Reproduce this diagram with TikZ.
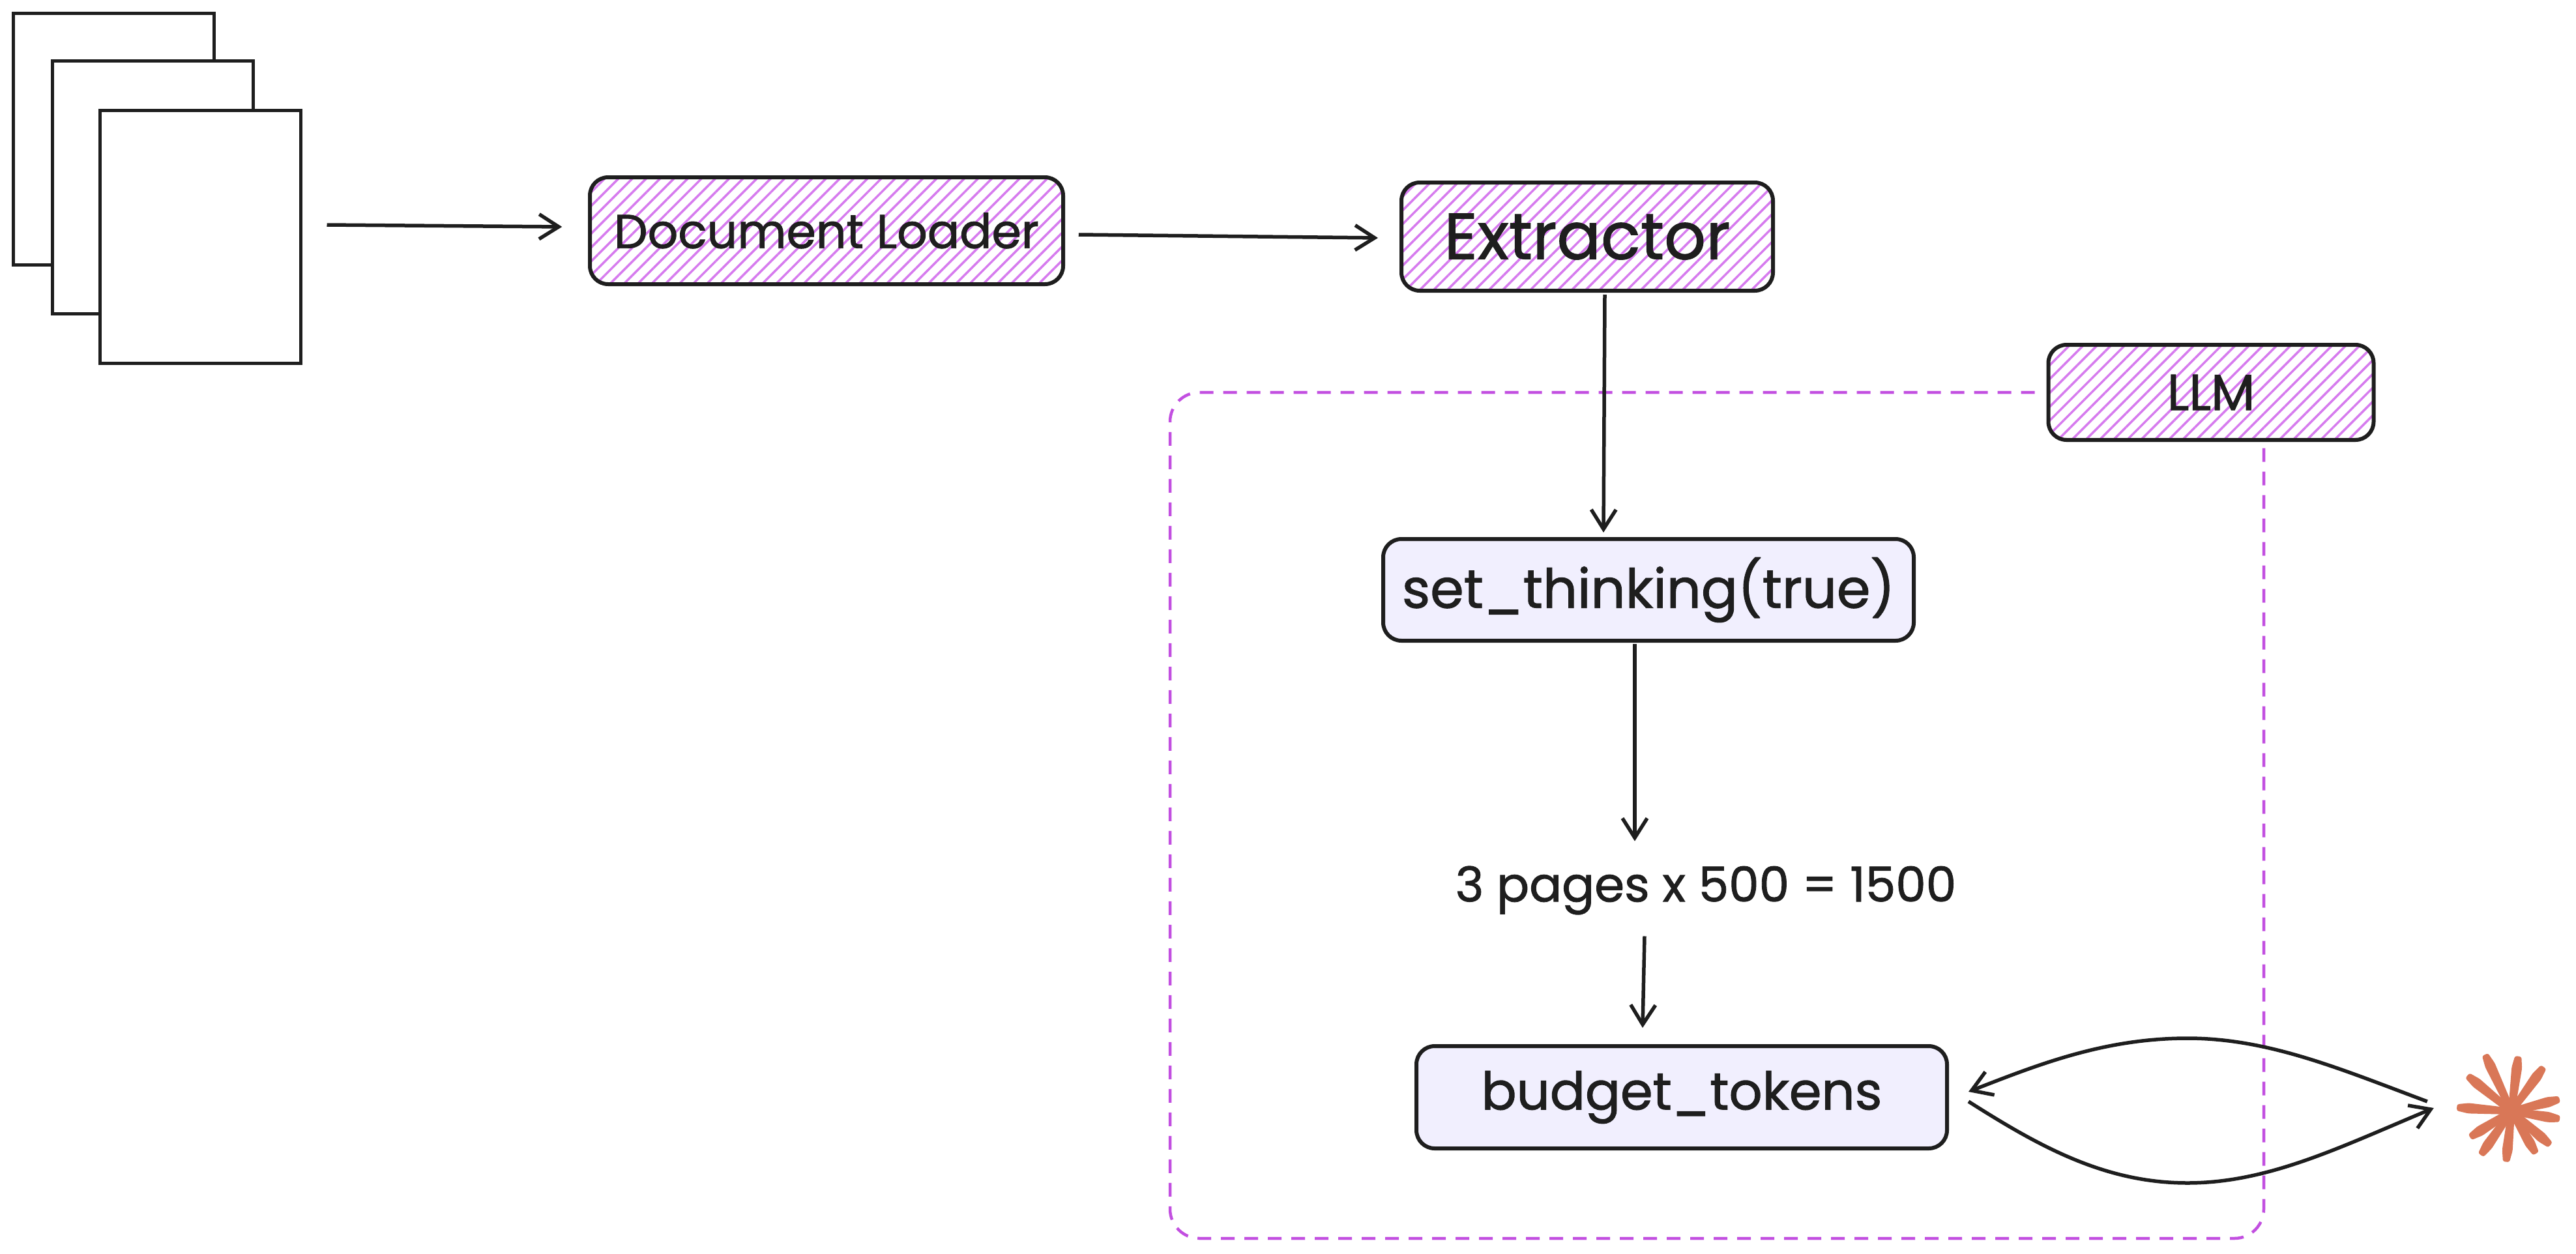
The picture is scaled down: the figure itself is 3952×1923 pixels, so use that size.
\documentclass[tikz,border=0pt]{standalone}
\usepackage{fontspec}
\setmainfont[FakeBold=1.2]{Poppins}
\usetikzlibrary{arrows.meta,patterns.meta}

\definecolor{ink}{HTML}{1E1E1E}
\definecolor{hatchpurple}{HTML}{D67BEE}
\definecolor{dashpurple}{HTML}{C24FE0}
\definecolor{boxlilac}{HTML}{F1EFFE}
\definecolor{sparkorange}{HTML}{D97757}

\tikzset{
  page/.style={draw=ink,fill=white,line width=5pt,minimum width=308pt,inner sep=0pt},
  hatched/.style={draw=ink,line width=6pt,rounded corners=28pt,inner sep=0pt,text=ink,
    pattern={Lines[angle=45,distance=15pt,line width=3.5pt]},pattern color=hatchpurple},
  lilac/.style={draw=ink,fill=boxlilac,line width=6pt,rounded corners=28pt,inner sep=0pt,text=ink},
  flow/.style={draw=ink,line width=5.5pt,-{Straight Barb[length=30pt,width=38pt]}},
  llmline/.style={draw=dashpurple,line width=4.5pt,dash pattern=on 21pt off 15pt,rounded corners=45pt}
}

\begin{document}
\begin{tikzpicture}[x=1pt,y=-1pt]
\useasboundingbox (0,0) rectangle (3952,1923);

% pages
\node[page,minimum height=386pt] (page1) at (174,213) {};
\node[page,minimum height=388pt] (page2) at (234,287) {};
\node[page,minimum height=388pt] (page3) at (307,363) {};

\node[hatched,minimum width=726pt,minimum height=164pt,font=\fontsize{73}{77}\selectfont] (loader) at (1268,354) {Document Loader};
\node[hatched,minimum width=570pt,minimum height=166pt,font=\fontsize{100}{104}\selectfont] (extractor) at (2435,363) {Extractor};
\node[hatched,minimum width=499pt,minimum height=146pt,font=\fontsize{78}{82}\selectfont] (llm) at (3392,602) {LLM};
\node[lilac,minimum width=814pt,minimum height=156pt,font=\fontsize{83}{87}\selectfont] (thinking) at (2529,905) {set\_thinking(true)};
\node[inner sep=0pt,minimum height=70pt,text=ink,font=\fontsize{74}{78}\selectfont] (calc) at (2617,1366) {3 pages x 500 = 1500};
\node[lilac,minimum width=814pt,minimum height=157pt,font=\fontsize{80}{84}\selectfont] (budget) at (2580,1683.5) {budget\_tokens};
\node[circle,inner sep=0pt,minimum size=176pt] (spark) at (3853,1705) {};

% llm frame
\draw[llmline] ([xshift=-18pt]llm.west) -| (1795,1900) -| ([xshift=81pt]llm.south);

% rays
\foreach \ang/\len in {115/96,83/85,54/84,141/87,14/76,176/84,-9/75,212/75,-41/79,235/82,-60/75,264/78}
  \fill[sparkorange,rounded corners=3pt,shift={(spark.center)},rotate=\ang] (0,-5) -- (\len-18,-8) -- (\len,-5) -- (\len,5) -- (\len-18,8) -- (0,5) -- cycle;

\draw[flow] ([xshift=38pt,yshift=18pt]page3.east) -- ([xshift=-41pt,yshift=6pt]loader.west);
\draw[flow] ([xshift=22pt,yshift=-6pt]loader.east) -- ([xshift=-33pt,yshift=-2pt]extractor.west);
\draw[flow] ([xshift=27pt,yshift=-3pt]extractor.south) -- ([xshift=-69pt,yshift=7pt]thinking.north);
\draw[flow] ([xshift=-21pt,yshift=-2pt]thinking.south) -- ([xshift=-109pt,yshift=38pt]calc.north);
\draw[flow] ([xshift=-94pt,yshift=-33pt]calc.south) -- ([xshift=-60pt,yshift=25pt]budget.north);
\draw[flow] ([xshift=-41pt,yshift=15pt]spark.west) .. controls (3590,1640) and (3480,1593) .. (3356,1593) .. controls (3230,1593) and (3130,1632) .. ([xshift=30pt,yshift=8.5pt]budget.east);
\draw[flow] ([xshift=30pt,yshift=-6.5pt]budget.east) .. controls (3130,1760) and (3230,1815) .. (3356,1815) .. controls (3480,1815) and (3590,1760) .. ([xshift=-31pt,yshift=5pt]spark.west);
\end{tikzpicture}
\end{document}
